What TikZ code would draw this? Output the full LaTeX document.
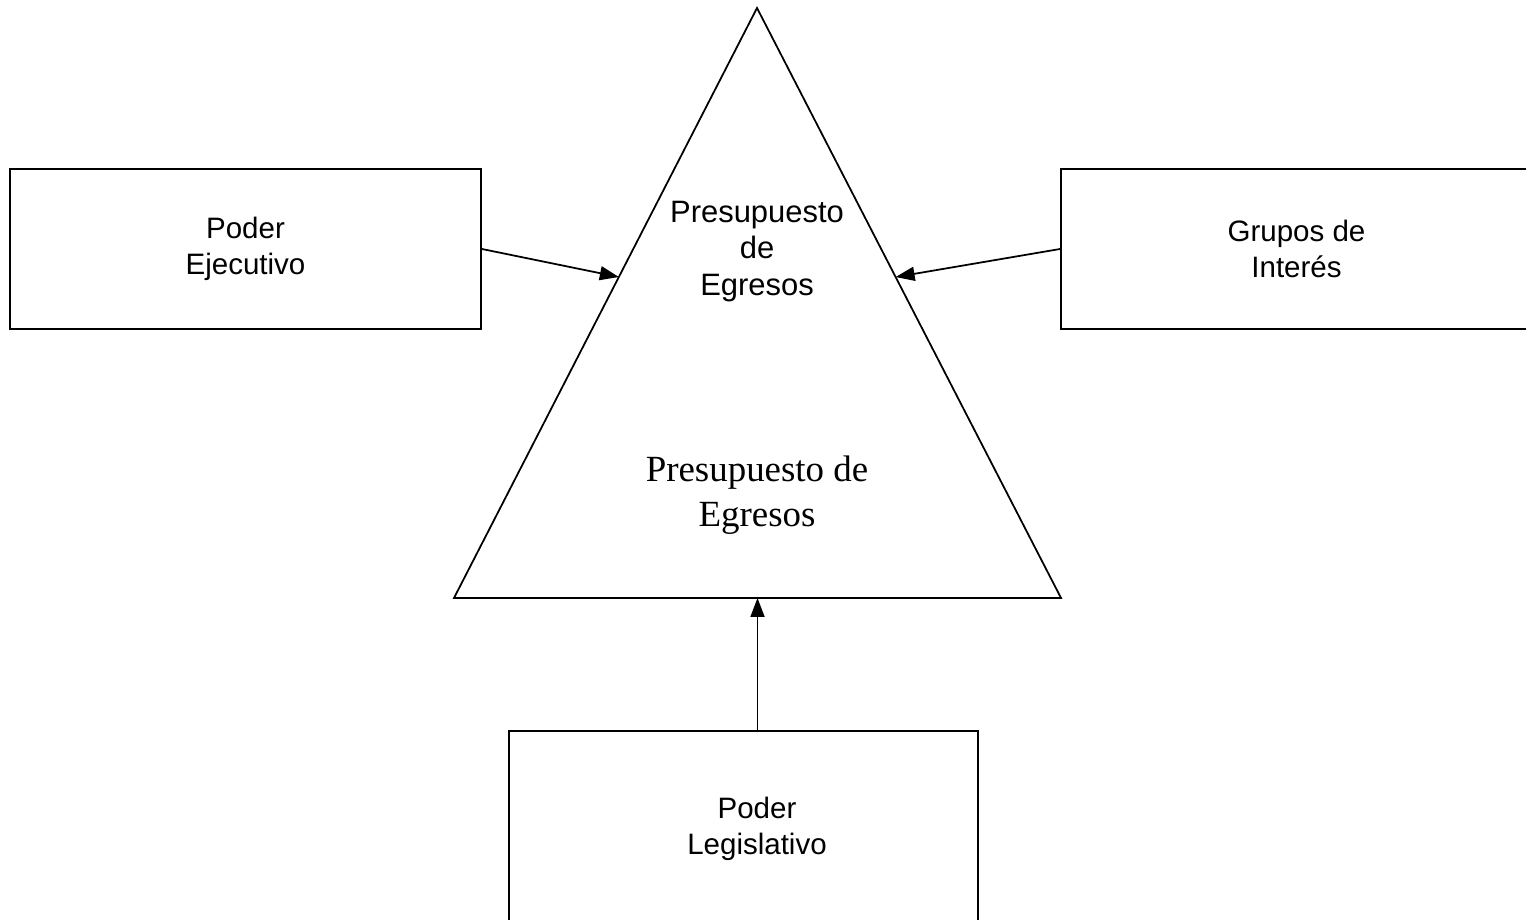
\documentclass[tikz,border=0pt]{standalone}
\usepackage{fontspec}
\setmainfont{Liberation Sans}
\newfontfamily\timesfont{Liberation Serif}
\usetikzlibrary{arrows.meta,calc}
\tikzset{
  caja/.style={draw,line width=1pt,minimum width=9.42cm,align=center,font=\fontsize{16.8}{20.4}\selectfont},
  flecha/.style={line width=1pt,-{Triangle[length=3.8mm,width=2.8mm]}}
}
\begin{document}
\begin{tikzpicture}
      \clip (0,0) rectangle (30.52,18.4);
      % triangulo
      \coordinate (cima) at (15.14,18.24);
      \coordinate (izq) at (9.08,6.44);
      \coordinate (der) at (21.22,6.44);
      \coordinate (base) at ($(izq)!0.5!(der)$);
      \draw[line width=1pt] (cima) -- (izq) -- (der) -- cycle;
      \node[align=center,font=\fontsize{17.6}{20.7}\selectfont] (presup) at (15.14,13.37) {Presupuesto\\de\\Egresos};
      \node[align=center,font=\timesfont\fontsize{21}{25.5}\selectfont] (egresos) at (15.14,8.5) {Presupuesto de\\Egresos};
      % cajas
      \node[caja,minimum height=3.2cm] (ejecutivo) at (4.91,13.42) {Poder\\Ejecutivo};
      \node[caja,minimum height=3.2cm] (grupos) at (25.93,13.42) {Grupos de\\Interés};
      \node[caja,minimum width=9.38cm,minimum height=3.84cm] (legislativo) at (14.87,1.86) {};
      \node[align=center,font=\fontsize{16.8}{20.4}\selectfont] (legtexto) at (15.14,1.83) {Poder\\Legislativo};
      % flechas
      \draw[flecha] (ejecutivo.east) -- ($(cima)!0.456!(izq)$);
      \draw[flecha] (grupos.west) -- ($(cima)!0.456!(der)$);
      \draw[flecha] (base |- legislativo.north) -- (base);
    \end{tikzpicture}
\end{document}
